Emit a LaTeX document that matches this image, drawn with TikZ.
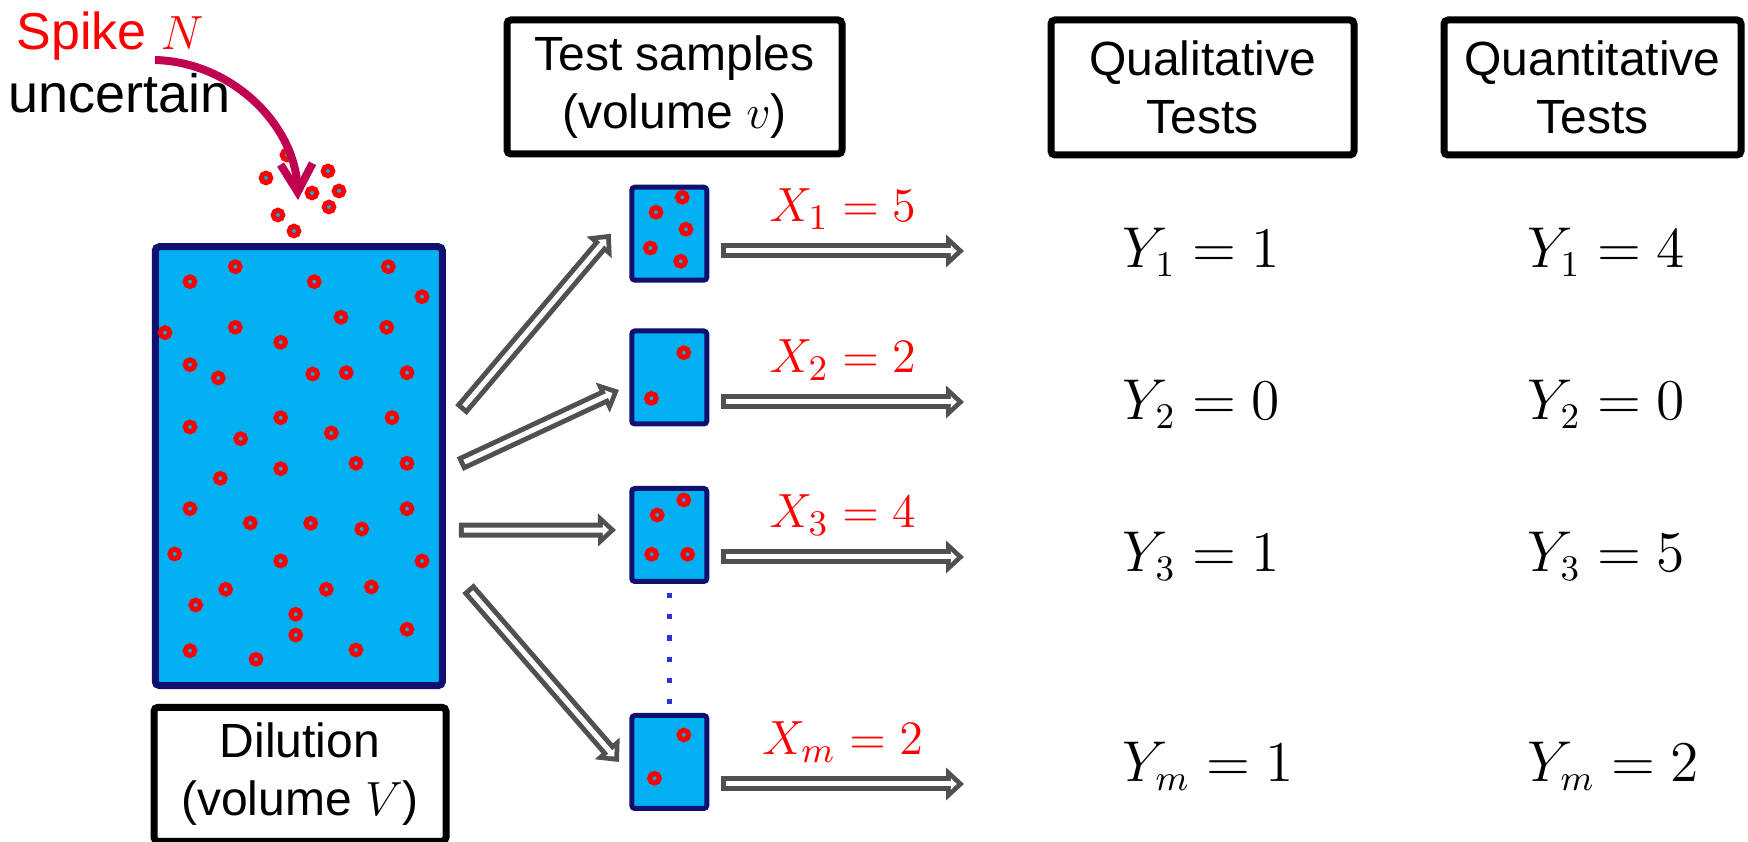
\documentclass[tikz,border=0pt]{standalone}
\usepackage[no-math]{fontspec}
\setmainfont{Liberation Sans}
\usepackage{tikz}
\usetikzlibrary{arrows.meta,calc}

\definecolor{tankblue}{RGB}{0,176,240}
\definecolor{tankline}{RGB}{16,16,112}
\definecolor{arrgray}{RGB}{80,80,80}
\definecolor{spikered}{RGB}{192,0,80}
\definecolor{dotblue}{RGB}{50,50,210}

\begin{document}
\begin{tikzpicture}[
		x=0.25pt, y=-0.25pt,
		font=\fontsize{12}{14.4}\selectfont,
		labelbox/.style={draw, line width=1.75pt, rounded corners=1pt, align=center, inner sep=0pt},
		tank/.style={draw=tankline, fill=tankblue, line width=1.75pt, rounded corners=1pt, inner sep=0pt, minimum width=71.8pt, minimum height=109.7pt},
		vial/.style={draw=tankline, fill=tankblue, line width=1.25pt, rounded corners=0.75pt, inner sep=0pt, minimum width=18.75pt, minimum height=23.25pt},
		germ/.style={draw=red, fill=tankblue, line width=1.25pt},
		hollow/.style={draw=arrgray, line width=3.75pt, -{Triangle[length=4.5pt,width=8pt]},
			postaction={draw=white, line width=1.25pt, shorten <=1.25pt, shorten >=1.8pt, -{Triangle[length=1.5pt,width=2.8pt]}}},
		countlbl/.style={text=red, font=\fontsize{12.5}{15}\selectfont, anchor=base},
		result/.style={font=\fontsize{13.5}{16}\selectfont, anchor=base west, inner sep=0pt},
		spikearrow/.style={draw=spikered, line width=2pt, -{Straight Barb[length=7pt,width=8pt]}},
		gap/.style={draw=dotblue, line width=1.4pt, dash pattern=on 1.3pt off 4pt, shorten <=2.25pt, shorten >=2.25pt}
		]
		\useasboundingbox (0,0) rectangle (1748,842);

		% headers
		\node[anchor=base, text=red, font=\fontsize{13}{15.6}\selectfont] (spike) at (110,50) {Spike $N$};
		\node[anchor=base, font=\fontsize{13.5}{16}\selectfont] (uncert) at (119.5,113) {uncertain};
		\node[labelbox, minimum width=83.75pt, minimum height=33.5pt] (tests) at (674.5,87) {Test samples\\(volume $v$)};
		\node[labelbox, minimum width=75.75pt, minimum height=33.75pt] (qual) at (1202.5,87.5) {Qualitative\\Tests};
		\node[labelbox, minimum width=74.25pt, minimum height=33.75pt] (quant) at (1592.5,87.5) {Quantitative\\Tests};
		\node[labelbox, minimum width=73pt, minimum height=33.5pt] (dil) at (300,774.3) {Dilution\\(volume $V$)};

		% dilution and samples
		\node[tank] (cont) at (298.85,466.15) {};
		\node[vial] (s1) at (669.3,233.7) {};
		\node[vial] (s2) at (669.3,377.5) {};
		\node[vial] (s3) at (669.3,535) {};
		\node[vial] (sm) at (669.3,762) {};

		\foreach \x/\y in {190/281.7, 235.3/266.7, 314.3/281.7, 388.3/266.7, 422/296.7,
			165/332.7, 235.3/327.3, 341/317.3, 386.7/327.3, 280.7/342.3,
			190/364.7, 218.3/378, 312.7/374, 346.3/372.7, 407/372.7,
			190/427, 280.7/417.7, 392/417.7, 240.7/438.7, 331.3/433,
			280.7/468.7, 356/463.3, 407/463.3, 220.3/478.3,
			190/508.7, 407/508.7, 250.3/523, 310.7/523.3, 361.7/529,
			174.7/554, 280.7/561, 422/561,
			225.7/589.3, 326.3/589.3, 371.3/587, 195.7/605,
			295.7/614.3, 295.7/635, 407/629.3,
			190/650.7, 256/659.3, 356/650,
			287/155, 266/178, 328/171, 312/193, 339/191, 329/207, 278/215, 294/231,
			682.3/197.3, 656/212.3, 686/229.3, 650.3/248, 680.7/261.3,
			683.8/352.7, 651.4/398.3,
			683.8/500, 657.2/515, 651.7/554.3, 687.6/554.3,
			683.8/735, 654.5/778.3}
		\draw[germ] (\x,\y) circle (4.8);

		% spike drop
		\coordinate (spkfrom) at (155,60);
		\coordinate (drop) at (298,200);
		\draw[spikearrow] (spkfrom) .. controls (232,62) and (295,125) .. (drop);

		% splitting into samples
		\draw[hollow] ([shift={(15,-56)}]cont.east) -- ([shift={(-18.5,0)}]s1.west);
		\draw[hollow] ([shift={(14,-2)}]cont.east) -- ([shift={(-10.3,12.5)}]s2.west);
		\draw[hollow] ([shift={(13,64)}]cont.east) -- ([shift={(-13.3,-5)}]s3.west);
		\draw[hollow] ([shift={(22,122)}]cont.east) -- ([shift={(-10.3,0)}]sm.west);
		\draw[gap] (s3.south) -- (sm.north);

		% counts
		\coordinate (o1) at (964,251);
		\coordinate (o2) at (964,402);
		\coordinate (o3) at (964,557);
		\coordinate (om) at (964,784);
		\draw[hollow] ($(s1.east |- o1)+(12,0)$) -- node[countlbl, midway, yshift=7.25pt] (x1) {$X_1 = 5$} (o1);
		\draw[hollow] ($(s2.east |- o2)+(12,0)$) -- node[countlbl, midway, yshift=7.25pt] (x2) {$X_2 = 2$} (o2);
		\draw[hollow] ($(s3.east |- o3)+(12,0)$) -- node[countlbl, midway, yshift=7.25pt] (x3) {$X_3 = 4$} (o3);
		\draw[hollow] ($(sm.east |- om)+(12,0)$) -- node[countlbl, midway, yshift=7.25pt] (xm) {$X_m = 2$} (om);

		% test results
		\node[result] (ql1) at (1122,268) {$Y_1 = 1$};
		\node[result] (ql2) at (1122,420) {$Y_2 = 0$};
		\node[result] (ql3) at (1122,572) {$Y_3 = 1$};
		\node[result] (qlm) at (1122,782) {$Y_m = 1$};
		\node[result] (qn1) at (1527,268) {$Y_1 = 4$};
		\node[result] (qn2) at (1527,420) {$Y_2 = 0$};
		\node[result] (qn3) at (1527,572) {$Y_3 = 5$};
		\node[result] (qnm) at (1527,782) {$Y_m = 2$};
	\end{tikzpicture}
\end{document}
